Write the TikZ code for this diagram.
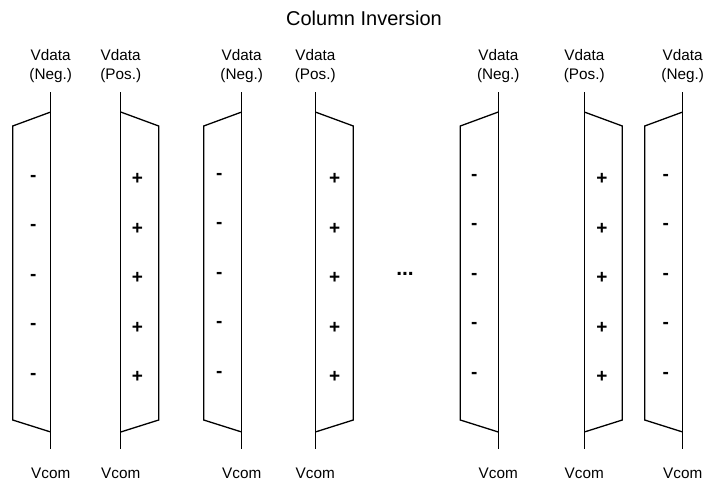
\documentclass[tikz,border=0pt]{standalone}
\usepackage{fontspec}
\setmainfont{Liberation Sans}
\begin{document}
\begin{tikzpicture}[x=1pt,y=-1pt,line width=1.3pt,
  lbl/.style={font=\fontsize{15.3}{18.6}\selectfont,align=center,inner sep=0,anchor=base},
  ttl/.style={font=\fontsize{20}{24}\selectfont,inner sep=0,anchor=base},
  sgn/.style={font=\fontsize{19}{19}\selectfont\bfseries,inner sep=0}]
\useasboundingbox (0,0) rectangle (705,483);
\node[ttl] (title) at (364,25.5) {Column Inversion};
% columns: line x / direction (-1 = Neg., 1 = Pos.)
\foreach \L/\d [count=\i] in {50.7/-1,120.7/1,241.7/-1,315.3/1,498.3/-1,584.3/1,682.7/-1} {
  \coordinate (top\i) at (\L,92);
  \coordinate (bot\i) at (\L,449);
  \draw (top\i) -- (bot\i);
  \draw (\L,112) -- (\L+38*\d,126) -- (\L+38*\d,420) -- (\L,432);
  \ifnum\d<0
    \node[lbl] (vd\i) at (\L,79.3) {Vdata\\(Neg.)};
  \else
    \node[lbl] (vd\i) at (\L,79.3) {Vdata\\(Pos.)};
  \fi
  \node[lbl] (vc\i) at (\L,478) {Vcom};
}
% signs
\foreach \x/\s/\dy [count=\i] in {33.3/-/0,137.3/+/1,219.3/-/-2,334.7/+/1,474.3/-/-1,602/+/1,665.7/-/-1} {
  \foreach \y [count=\j] in {178,227.5,277,326.5,376} {
    \node[sgn] (s\i-\j) at (\x,\y+\dy) {\s};
  }
}
\node[font=\fontsize{21}{21}\selectfont\bfseries,inner sep=0,anchor=base] (dots) at (405,275) {...};
\end{tikzpicture}
\end{document}
